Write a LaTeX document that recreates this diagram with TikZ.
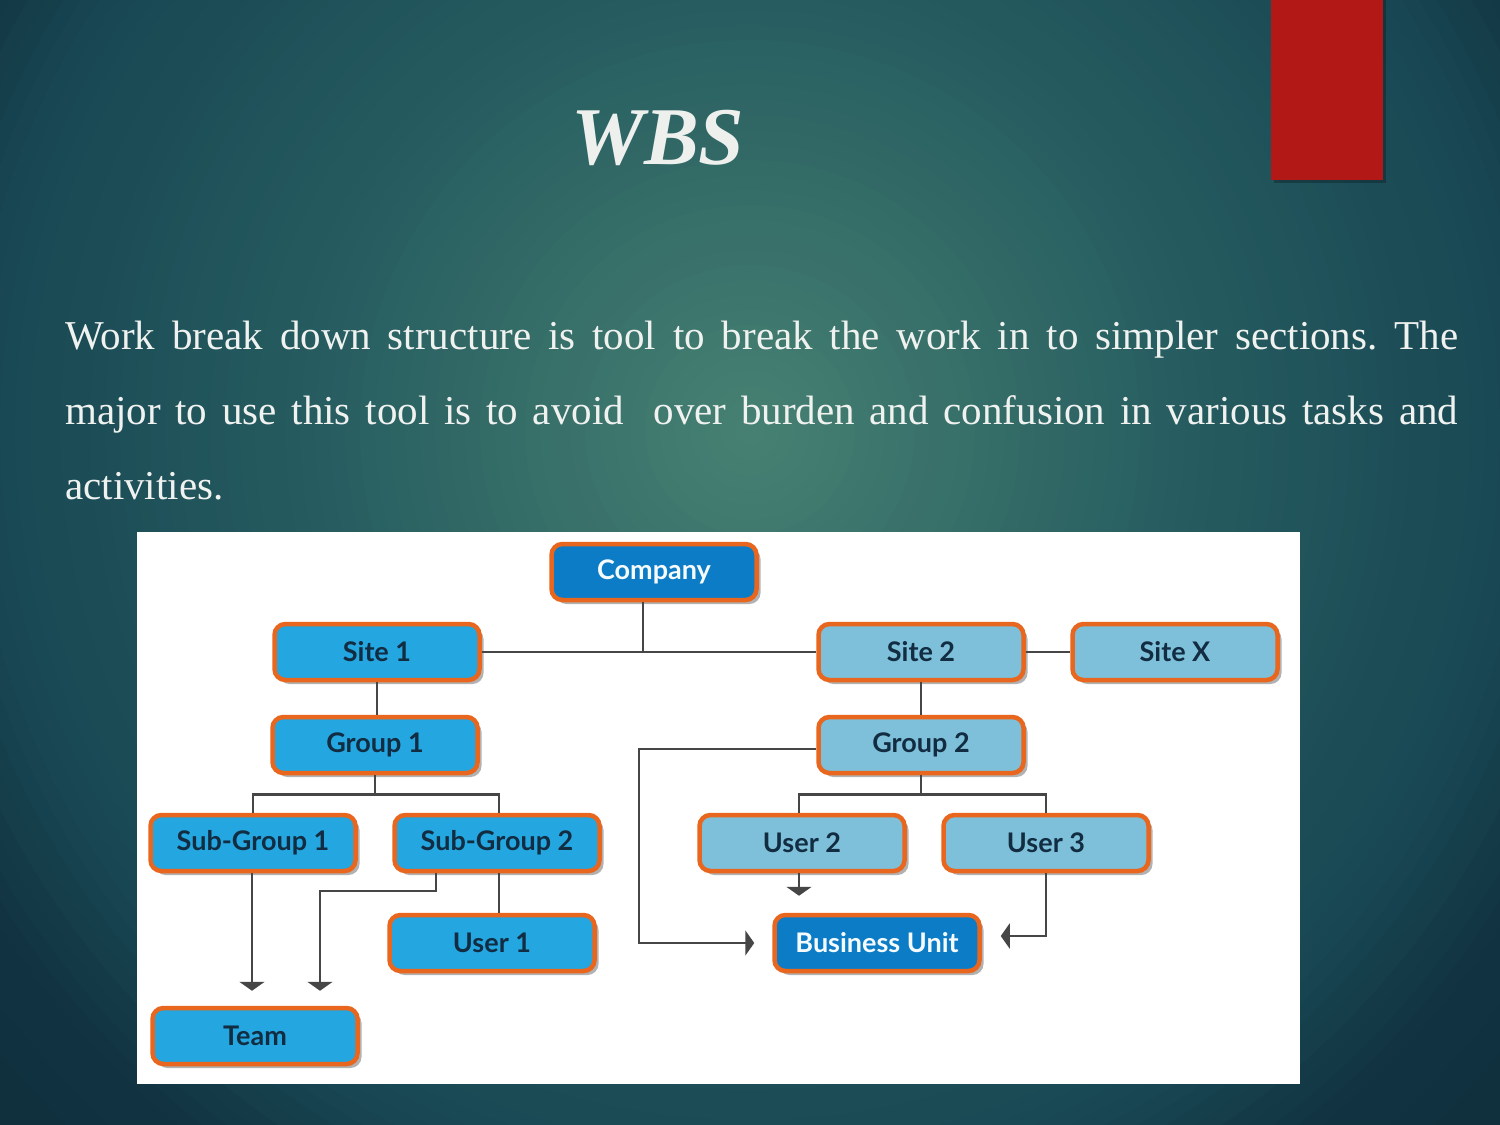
\documentclass[tikz,border=0pt]{standalone}
\usepackage{fontspec}
\setmainfont{Liberation Serif}
\newfontfamily\diafont{Lato}
\usetikzlibrary{shadows,arrows.meta}

\definecolor{redc}{RGB}{178,24,22}
\definecolor{titlec}{RGB}{238,240,238}
\definecolor{bodyc}{RGB}{240,242,240}
\definecolor{orangec}{RGB}{232,102,30}
\definecolor{bblue}{RGB}{36,166,224}
\definecolor{dblue}{RGB}{12,124,198}
\definecolor{lblue}{RGB}{126,192,218}
\definecolor{navyc}{RGB}{18,44,66}
\definecolor{linec}{RGB}{70,70,70}

\tikzset{
  wbsbox/.style={rounded corners=11pt, draw=orangec, line width=4.5pt,
    minimum width=205pt, minimum height=56pt, inner sep=0pt,
    font=\diafont\bfseries\fontsize{27}{32}\selectfont,
    drop shadow={shadow xshift=4pt, shadow yshift=-4pt, fill=black, opacity=0.3}},
  brightbox/.style={wbsbox, fill=bblue, text=navyc},
  lightbox/.style={wbsbox, fill=lblue, text=navyc},
  darkbox/.style={wbsbox, fill=dblue, text=white!92!lblue},
  conn/.style={draw=linec, line width=2.5pt},
  arr/.style={conn, -{Triangle[width=25pt,length=9pt]}}
}

\begin{document}
\frenchspacing
\begin{tikzpicture}[x=1pt,y=-1pt,
  declare function={clampv(\x)=min(1,max(0,\x));
    interp(\d,\a,\b,\c,\e,\f)=\a+(\b-\a)*clampv(\d/450)+(\c-\b)*clampv((\d-450)/320)+(\e-\c)*clampv((\d-770)/130)+(\f-\e)*clampv((\d-900)/100);}]
\useasboundingbox (0,0) rectangle (1500,1125);
\clip (0,0) rectangle (1500,1125);
% background: radial glow built from concentric discs
\foreach \i in {0,...,74}{
  \pgfmathsetmacro\rr{1110-15*\i}
  \pgfmathtruncatemacro\cR{interp(\rr,72,38,25,18,16)}
  \pgfmathtruncatemacro\cG{interp(\rr,130,92,72,52,48)}
  \pgfmathtruncatemacro\cB{interp(\rr,115,96,84,66,62)}
  \definecolor{tmpc}{RGB}{\cR,\cG,\cB}
  \fill[tmpc] (750,430) circle[radius=\rr];
}

% red tab
\fill[black,opacity=0.25] (1274,0) rectangle (1386,183);
\fill[redc] (1271,0) rectangle (1383,180);

% title
\node[anchor=base, inner sep=0pt, text=titlec,
  font=\fontsize{82}{90}\selectfont\bfseries\itshape] (title) at (658,164) {WBS};

% body text
\node[anchor=base west, inner sep=0pt, text width=1393pt, align=justify,
  text=bodyc, font=\fontsize{41}{75}\selectfont] (body) at (65,349)
  {Work break down structure is tool to break the work in to simpler sections. The\linebreak
   major to use this tool is to avoid\ \ over burden and confusion in various tasks and\linebreak
   activities.};

% white panel
\fill[white] (137,532) rectangle (1300,1084);

% nodes
\node[darkbox]   (company) at (654,572) {Company};
\node[brightbox] (site1)   at (377,652) {Site 1};
\node[lightbox]  (site2)   at (921,652) {Site 2};
\node[lightbox]  (sitex)   at (1175,652) {Site X};
\node[brightbox] (group1)  at (375,745) {Group 1};
\node[lightbox]  (group2)  at (921,745) {Group 2};
\node[brightbox] (sub1)    at (253,843) {Sub-Group 1};
\node[brightbox] (sub2)    at (497,843) {Sub-Group 2};
\node[lightbox]  (user2)   at (802,843) {User 2};
\node[lightbox]  (user3)   at (1046,843) {User 3};
\node[brightbox] (user1)   at (492,943) {User 1};
\node[darkbox]   (bu)      at (877,943) {Business Unit};
\node[brightbox] (team)    at (255,1036) {Team};

% helper coordinates
\coordinate (gl) at (639,749);
\coordinate (s2a) at (436,891);
\coordinate (s2b) at (320,891);

% connectors
\draw[conn] (site1.east) -- (site2.west);
\draw[conn] ([xshift=-11pt]company.south) -- ([xshift=-11pt]company.south |- site1.east);
\draw[conn] (site2.east) -- (sitex.west);
\draw[conn] (site1.south) -- (site1.south |- group1.north);
\draw[conn] (group1.south) -- ++(0,19) -| (sub1.north);
\draw[conn] (group1.south) -- ++(0,19) -| ([xshift=2pt]sub2.north);
\draw[conn] (site2.south) -- (group2.north);
\draw[conn] (group2.south) -- ++(0,19) -| ([xshift=-3pt]user2.north);
\draw[conn] (group2.south) -- ++(0,19) -| (user3.north);
\draw[arr, shorten >=18pt] (group2.west |- gl) -- (gl) |- (bu.west);
\draw[arr, shorten >=17pt] ([xshift=-3pt]user2.south) -- ([xshift=-3pt]user2.south |- bu.north);
\draw[arr, shorten >=19pt] (user3.south) |- ([yshift=7pt]bu.east);
\draw[arr, shorten >=15pt] ([xshift=-1pt]sub1.south) -- ([xshift=-1pt]sub1.south |- team.north);
\draw[arr, shorten >=15pt] (sub2.south -| s2a) -- (s2a) -- (s2b) -- (s2b |- team.north);
\draw[conn] ([xshift=2pt]sub2.south) -- ([xshift=2pt]sub2.south |- user1.north);
\end{tikzpicture}
\end{document}
